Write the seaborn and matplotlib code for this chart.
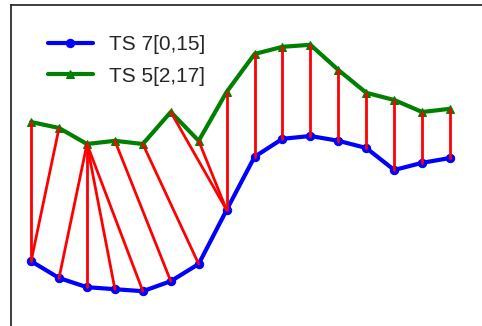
import numpy as np
import pandas as pd
import matplotlib
matplotlib.use("Agg")
import matplotlib.pyplot as plt
import seaborn as sns

# ===== data =====
idx = list(range(16))
ts7 = [-1.53, -1.95, -2.18, -2.23, -2.28, -2.03, -1.60, -0.25,
       1.08, 1.53, 1.60, 1.48, 1.30, 0.75, 0.93, 1.05]
ts5 = [1.95, 1.80, 1.40, 1.48, 1.40, 2.20, 1.48, 2.70,
       3.65, 3.83, 3.88, 3.25, 2.68, 2.50, 2.20, 2.28]
# alignment path (index in TS 7, index in TS 5)
path_a = [0, 0, 1, 2, 3, 4, 5, 6, 7, 7, 7, 8, 9, 10, 11, 12, 13, 14, 15]
path_b = [0, 1, 2, 2, 2, 2, 3, 4, 5, 6, 7, 8, 9, 10, 11, 12, 13, 14, 15]
labels = ['TS 7[0,15]', 'TS 5[2,17]']

sns.set_style("white")
plt.rcParams['font.family'] = ['Liberation Sans', 'DejaVu Sans']

fig = plt.figure(figsize=(4.82, 3.26), dpi=100)
ax = fig.add_axes([11/482, 1 - 340/326, 1.05, (335)/326])

df = pd.DataFrame({'x': idx, 'a': ts7, 'b': ts5})
sns.lineplot(data=df, x='x', y='a', ax=ax, color='blue', lw=3, marker='o',
             markersize=6, markeredgecolor='blue', label=labels[0], zorder=2)
sns.lineplot(data=df, x='x', y='b', ax=ax, color='green', lw=3, marker='^',
             markersize=6, markeredgecolor='green', label=labels[1], zorder=2)

# alignment lines
for i, j in zip(path_a, path_b):
    ax.plot([idx[i], idx[j]], [ts7[i], ts5[j]], color='red', lw=2, zorder=3)

ax.set_xlim(-0.72, 17.4)
ax.set_ylim(-3.5, 4.875)
ax.set_xticks([])
ax.set_yticks([])
ax.set_xlabel('')
ax.set_ylabel('')
for s in ax.spines.values():
    s.set_linewidth(1.25)

ax.legend(loc='upper left', bbox_to_anchor=(0.073, 0.91), bbox_transform=ax.transAxes,
          frameon=False, fontsize=15, handlelength=2.15, labelspacing=0.6,
          borderaxespad=0.0, borderpad=0.0)

fig.savefig('out.png', dpi=100)
